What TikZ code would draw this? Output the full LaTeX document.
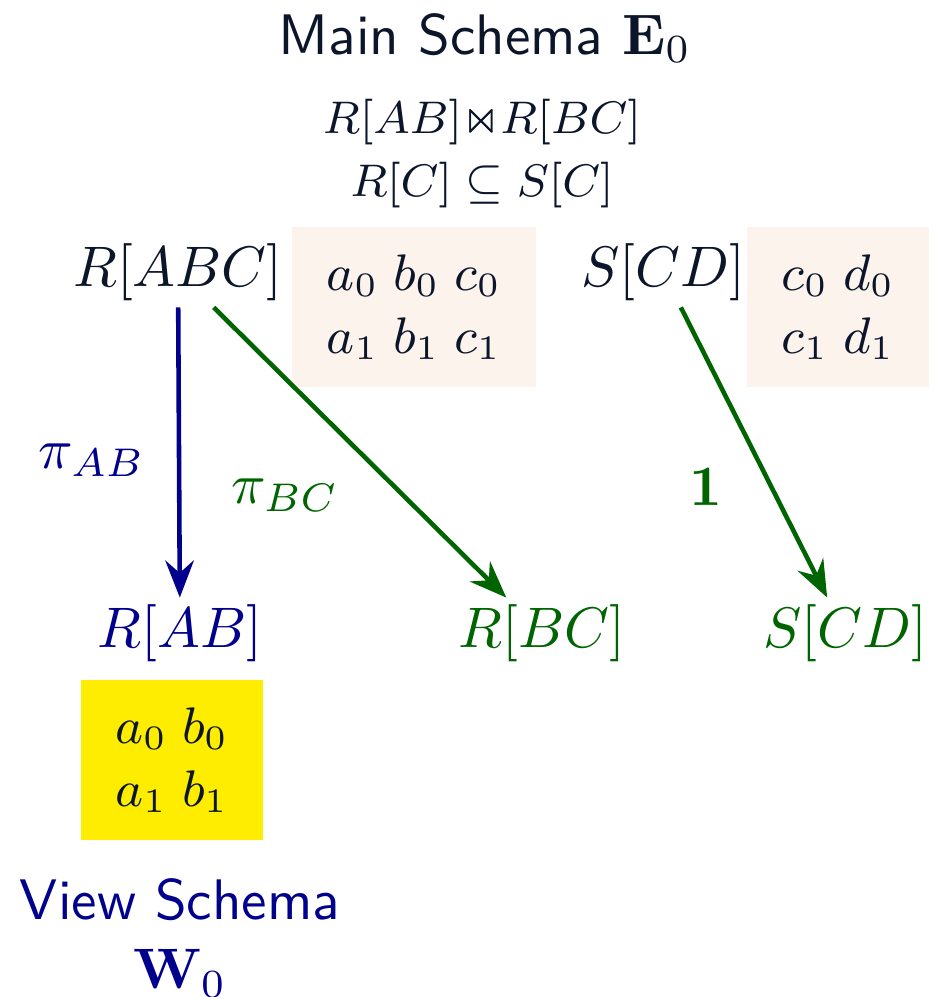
\documentclass[tikz,border=0pt]{standalone}
\usepackage{amsmath,amssymb}
\usepackage{xcolor}
\usepackage{tikz}
\usetikzlibrary{arrows.meta,positioning}
\definecolor{inkdark}{RGB}{12,22,42}
\definecolor{viewblue}{RGB}{0,0,140}
\definecolor{mapgreen}{RGB}{0,100,0}
\definecolor{tuplepink}{RGB}{253,243,237}
\definecolor{viewyellow}{RGB}{255,237,0}

\begin{document}
\begin{tikzpicture}[x=17.5pt,y=17.5pt,
  rel/.style={inner sep=1pt,text=#1,font=\fontsize{10.3pt}{12pt}\selectfont},
  rel/.default=inkdark,
  tbl/.style={fill=#1,align=center,text=inkdark,inner sep=0pt,minimum height=28pt,font=\fontsize{9pt}{11pt}\selectfont},
  tbl/.default=tuplepink,
  map/.style={-{Stealth[length=6.5pt,width=5pt,inset=2.2pt]},thick,draw=#1},
  lbl/.style={text=#1,inner sep=1pt}]
  \useasboundingbox (0,0) rectangle (9.37,-9.97);
  % main schema
  \node[text=inkdark,font=\sffamily] (title) at (4.85,-0.38) {Main Schema $\mathbf{E}_0$};
  \node[text=inkdark,align=center,font=\fontsize{8.5pt}{11pt}\selectfont] (cons) at (4.82,-1.54) {$R[AB]{\Join}R[BC]$\\$R[C]\subseteq S[C]$};
  \node[rel] (rabc) at (1.78,-2.72) {$R[ABC]$};
  \node[rel] (scd) at (6.63,-2.72) {$S[CD]$};
  \node[tbl,minimum width=42.7pt] (trabc) at (4.14,-3.07) {$a_0\;b_0\;c_0$\\$a_1\;b_1\;c_1$};
  \node[tbl,minimum width=31.9pt] (tscd) at (8.38,-3.07) {$c_0\;d_0$\\$c_1\;d_1$};
  % view schema
  \node[rel=viewblue] (rab) at (1.80,-6.33) {$R[AB]$};
  \node[rel=mapgreen] (rbc) at (5.42,-6.33) {$R[BC]$};
  \node[rel=mapgreen] (scdv) at (8.45,-6.33) {$S[CD]$};
  \node[tbl=viewyellow,minimum width=31.9pt] (trab) at (1.72,-7.60) {$a_0\;b_0$\\$a_1\;b_1$};
  \node[text=viewblue,font=\sffamily,align=center] (view) at (1.80,-9.38) {View Schema\\$\mathbf{W}_0$};
  % mappings
  \draw[map=viewblue] (rabc) -- (rab);
  \draw[map=mapgreen] (rabc) -- (rbc);
  \draw[map=mapgreen] (scd) -- (scdv);
  \node[lbl=viewblue] (piab) at (0.92,-4.60) {$\pi_{AB}$};
  \node[lbl=mapgreen] (pibc) at (2.85,-4.95) {$\pi_{BC}$};
  \node[lbl=mapgreen] (one) at (7.06,-4.87) {$\mathbf{1}$};
\end{tikzpicture}
\end{document}
